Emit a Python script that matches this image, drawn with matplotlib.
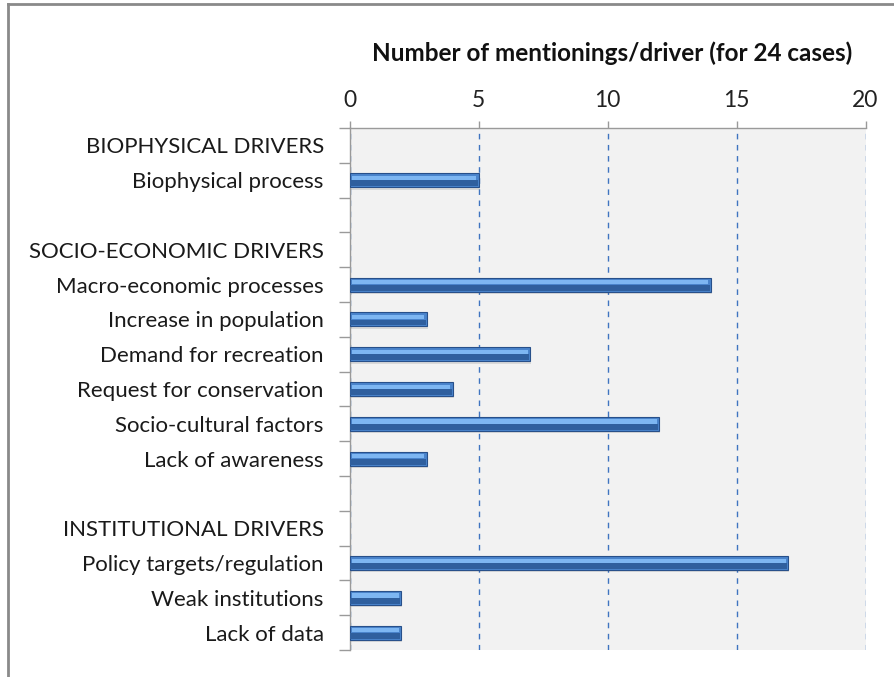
import matplotlib
matplotlib.use("Agg")
import matplotlib.pyplot as plt
from matplotlib.lines import Line2D
import numpy as np

categories = [
    "BIOPHYSICAL DRIVERS",
    "Biophysical process",
    "",
    "SOCIO-ECONOMIC DRIVERS",
    "Macro-economic processes",
    "Increase in population",
    "Demand for recreation",
    "Request for conservation",
    "Socio-cultural factors",
    "Lack of awareness",
    "",
    "INSTITUTIONAL DRIVERS",
    "Policy targets/regulation",
    "Weak institutions",
    "Lack of data",
]
values = [0, 5, 0, 0, 14, 3, 7, 4, 12, 3, 0, 0, 17, 2, 2]
x_ticks = [0, 5, 10, 15, 20]
title = "Number of mentionings/driver (for 24 cases)"

plt.rcParams['font.family'] = ['Lato', 'DejaVu Sans']

fig = plt.figure(figsize=(8.94, 6.77), dpi=100)
ax = fig.add_axes([349.5/894, 1-650/677, 516/894, (650-128)/677])
ax.set_facecolor("#f2f2f2")

y = np.arange(len(categories))
vals = np.array(values, dtype=float)
mask = vals > 0
h = 0.40

# shadow
ax.barh(y[mask] + 0.07, vals[mask] + 0.05, height=h, color="#000000", alpha=0.10,
        zorder=2, linewidth=0)
# main bar
ax.barh(y[mask], vals[mask], height=h, color="#4a84cc", edgecolor="#28508a",
        linewidth=0.8, zorder=3)
# lower darker band
ax.barh(y[mask] + h*0.22, vals[mask] - 0.05, height=h*0.42, left=0.025,
        color="#2f5f9e", linewidth=0, zorder=4)
# highlight band
ax.barh(y[mask] - h*0.17, vals[mask] - 0.2, height=h*0.30, left=0.1,
        color="#7db6f2", linewidth=0, zorder=4)

ax.set_xlim(0, 20)
ax.set_ylim(len(categories) - 0.5, -0.5)

ax.xaxis.tick_top()
ax.set_xticks(x_ticks)
ax.set_xticklabels([str(t) for t in x_ticks], fontsize=16.5, color="#222222")
ax.tick_params(axis="x", length=5, color="#9a9a9a", width=1, pad=7)
ax.grid(axis="x", color="#3f74c0", linestyle=(0, (4, 4)), linewidth=1.0, zorder=1)
ax.set_axisbelow(True)

ax.set_yticks(y)
ax.set_yticklabels(categories, fontsize=16, color="#1a1a1a")
ax.tick_params(axis="y", length=0, pad=18.5)
ax.set_yticks(np.arange(len(categories) + 1) - 0.5, minor=True)
ax.tick_params(axis="y", which="minor", length=8, color="#9a9a9a", width=1)

for s in ["right", "bottom"]:
    ax.spines[s].set_visible(False)
for s in ["top", "left"]:
    ax.spines[s].set_color("#9a9a9a")
    ax.spines[s].set_linewidth(1)

fig.text(612/894, 1-53/677, title, ha="center", va="center", fontsize=17.5,
         fontweight="bold", color="#111111")

# outer frame (top and left edges)
fig.add_artist(Line2D([8/894, 1], [1-4/677, 1-4/677], transform=fig.transFigure,
                      color="#8a8a8a", linewidth=2))
fig.add_artist(Line2D([8/894, 8/894], [0, 1-4/677], transform=fig.transFigure,
                      color="#8a8a8a", linewidth=2))

fig.savefig("out.png", dpi=100)
